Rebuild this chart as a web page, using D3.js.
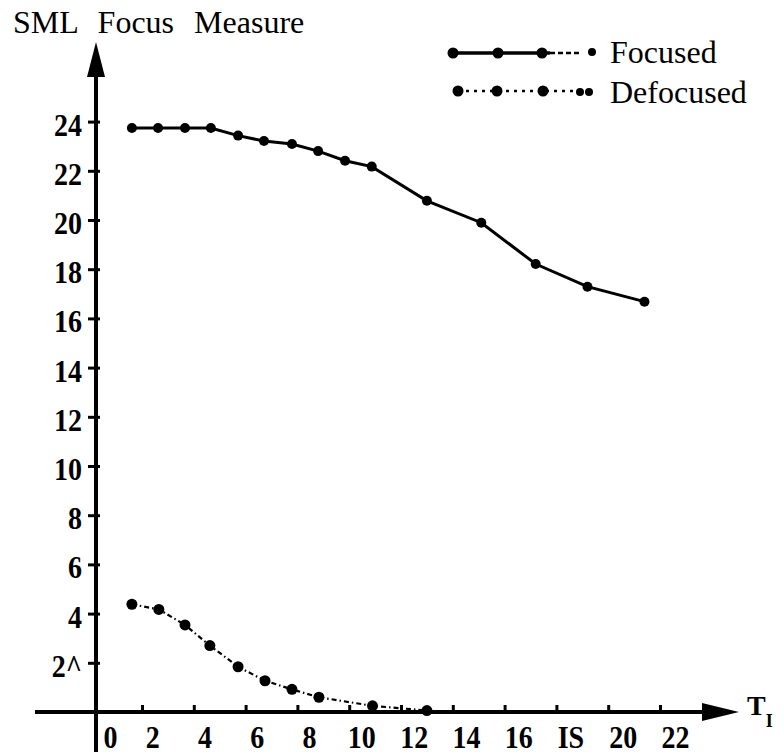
<!DOCTYPE html>
<html>
<head>
<meta charset="utf-8">
<script src="https://cdn.jsdelivr.net/npm/d3@7"></script>
<style>
  html, body { margin: 0; padding: 0; background: #fff; }
  svg { display: block; }
  text { font-family: "Liberation Serif", "Times New Roman", serif; fill: #000; }
</style>
</head>
<body>
<svg id="chart" width="784" height="755"></svg>
<script>
// ---- data ----
const focusedX = [1.61, 2.62, 3.66, 4.66, 5.71, 6.71, 7.79, 8.8, 9.84, 10.87, 13.0, 15.1, 17.2, 19.2, 21.4];
const focusedY = [23.74, 23.74, 23.74, 23.74, 23.43, 23.21, 23.09, 22.8, 22.41, 22.17, 20.78, 19.89, 18.21, 17.29, 16.68];
const defocusedX = [1.61, 2.65, 3.66, 4.62, 5.71, 6.75, 7.79, 8.83, 10.9, 13.0];
const defocusedY = [4.38, 4.17, 3.54, 2.7, 1.84, 1.27, 0.92, 0.6, 0.25, 0.06];
const yTickValues = [2, 4, 6, 8, 10, 12, 14, 16, 18, 20, 22, 24];
const yTickLabels = ["2^", "4", "6", "8", "10", "12", "14", "16", "18", "20", "22", "24"];
const xTickValues = [2, 4, 6, 8, 10, 12, 14, 16, 18, 20, 22];
const xLabelValues = [0, 2, 4, 6, 8, 10, 12, 14, 16, 18, 20, 22];
const xTickLabels = ["0", "2", "4", "6", "8", "10", "12", "14", "16", "IS", "20", "22"];
const seriesNames = ["Focused", "Defocused"];
const titleText = "SML Focus Measure";

// ---- layout ----
const svg = d3.select("#chart");
const x = d3.scaleLinear().domain([0, 22]).range([90.2, 660]);
const xl = d3.scaleLinear().domain([0, 22]).range([100, 675]);   // label positions (offset in scan)
const y = d3.scaleLinear().domain([0, 24]).range([712, 121.6]);
const axisX = 96, axisY = y(0);

// title
svg.append("text").attr("x", 13).attr("y", 33)
  .style("font-size", "32px").style("word-spacing", "12px")
  .text(titleText);

// y axis line + arrow
svg.append("line").attr("x1", axisX).attr("x2", axisX).attr("y1", 70).attr("y2", 752)
  .attr("stroke", "#000").attr("stroke-width", 4);
svg.append("path").attr("d", `M${axisX},42 L${axisX - 9},77 L${axisX + 9},77 Z`).attr("fill", "#000");

// x axis line + arrow
svg.append("line").attr("x1", 35).attr("x2", 708).attr("y1", axisY).attr("y2", axisY)
  .attr("stroke", "#000").attr("stroke-width", 4);
svg.append("path").attr("d", `M739,${axisY} L702,${axisY - 9} L702,${axisY + 9} Z`).attr("fill", "#000");

// x axis title T_I
const tl = svg.append("text").attr("x", 747).attr("y", 715)
  .style("font-size", "28px").style("font-weight", "bold");
tl.append("tspan").text("T");
tl.append("tspan").attr("dy", 12).style("font-size", "18px").text("I");

// y ticks
const yAxis = d3.axisLeft(y).tickValues(yTickValues)
  .tickFormat((d, i) => yTickLabels[i]).tickSize(8).tickPadding(6);
const gy = svg.append("g").attr("transform", `translate(${axisX},0)`).call(yAxis);
gy.select(".domain").remove();
gy.selectAll(".tick line").attr("stroke", "#000").attr("stroke-width", 3).attr("x2", 4).attr("x1", -8);
gy.selectAll(".tick text").style("font-size", "28px").style("font-weight", "bold")
  .style("font-family", "'Liberation Serif', serif").attr("dy", "0.42em")
  .attr("transform", "scale(1,1.15)");

// x ticks (marks above axis)
const xAxis = d3.axisBottom(x).tickValues(xTickValues).tickFormat("").tickSize(-7);
const gx = svg.append("g").attr("transform", `translate(0,${axisY})`).call(xAxis);
gx.select(".domain").remove();
gx.selectAll(".tick line").attr("stroke", "#000").attr("stroke-width", 3);

// x labels
const xLab = d3.axisBottom(xl).tickValues(xLabelValues)
  .tickFormat((d, i) => xTickLabels[i]).tickSize(0).tickPadding(11);
const gxl = svg.append("g").attr("transform", `translate(0,${axisY})`).call(xLab);
gxl.select(".domain").remove();
gxl.selectAll(".tick text").style("font-size", "28px").style("font-weight", "bold")
  .style("font-family", "'Liberation Serif', serif")
  .attr("dx", d => d === 0 ? 10 : 0)
  .attr("transform", "scale(1,1.15)");

// series
const focused = focusedX.map((v, i) => [v, focusedY[i]]);
const defocused = defocusedX.map((v, i) => [v, defocusedY[i]]);
const line = d3.line().x(d => x(d[0])).y(d => y(d[1]));

svg.append("path").datum(focused).attr("d", line)
  .attr("fill", "none").attr("stroke", "#000").attr("stroke-width", 3);
svg.append("g").selectAll("circle").data(focused).join("circle")
  .attr("cx", d => x(d[0])).attr("cy", d => y(d[1])).attr("r", 5).attr("fill", "#000");

svg.append("path").datum(defocused).attr("d", line)
  .attr("fill", "none").attr("stroke", "#000").attr("stroke-width", 2.2)
  .attr("stroke-dasharray", "5,3,1.5,3");
svg.append("g").selectAll("circle").data(defocused).join("circle")
  .attr("cx", d => x(d[0])).attr("cy", d => y(d[1])).attr("r", 5.5).attr("fill", "#000");

// legend
const lg = svg.append("g");
// focused
lg.append("line").attr("x1", 453).attr("x2", 550).attr("y1", 53).attr("y2", 53)
  .attr("stroke", "#000").attr("stroke-width", 3.5);
lg.append("line").attr("x1", 550).attr("x2", 582).attr("y1", 53).attr("y2", 53)
  .attr("stroke", "#000").attr("stroke-width", 2.5).attr("stroke-dasharray", "5,3");
[453, 498, 542].forEach(cx => lg.append("circle").attr("cx", cx).attr("cy", 53).attr("r", 5.5));
lg.append("circle").attr("cx", 592).attr("cy", 52).attr("r", 4);
lg.append("text").attr("x", 610).attr("y", 63).style("font-size", "32px").text(seriesNames[0]);
// defocused
lg.append("line").attr("x1", 458).attr("x2", 575).attr("y1", 91).attr("y2", 91)
  .attr("stroke", "#000").attr("stroke-width", 2.5).attr("stroke-dasharray", "3,5");
[458, 497, 543].forEach(cx => lg.append("circle").attr("cx", cx).attr("cy", 91).attr("r", 5.5));
[580, 589].forEach(cx => lg.append("circle").attr("cx", cx).attr("cy", 92).attr("r", 4));
lg.append("text").attr("x", 610).attr("y", 103).style("font-size", "32px").text(seriesNames[1]);
</script>
</body>
</html>
